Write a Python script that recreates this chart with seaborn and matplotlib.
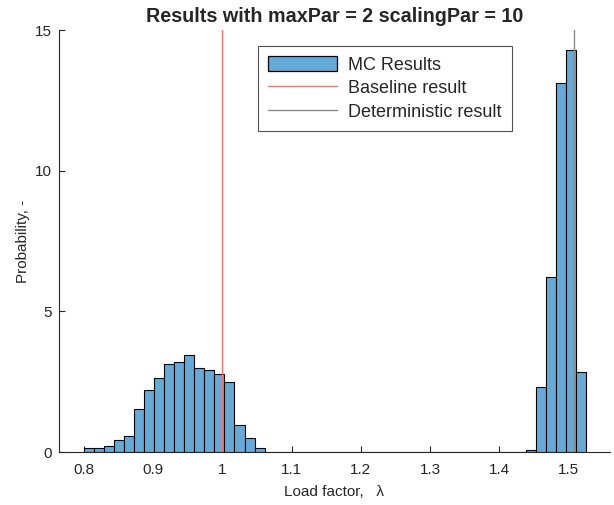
import numpy as np
import pandas as pd
import matplotlib
matplotlib.use("Agg")
import matplotlib.pyplot as plt
import seaborn as sns
from matplotlib.patches import Patch
from matplotlib.lines import Line2D

# ---- data ----
bin_start = 0.8
bin_width = 0.0145
n_bins = 50
left_heights = [0.15, 0.15, 0.21, 0.44, 0.56, 1.53, 2.22, 2.62, 3.12, 3.19,
                3.46, 2.97, 2.90, 2.78, 2.49, 0.97, 0.50, 0.15]
right_heights = [0.08, 2.30, 6.23, 13.10, 14.28, 2.84]
baseline_result = 1.0
deterministic_result = 1.508
x_ticks = [0.8, 0.9, 1.0, 1.1, 1.2, 1.3, 1.4, 1.5]
x_tick_labels = ["0.8", "0.9", "1", "1.1", "1.2", "1.3", "1.4", "1.5"]
y_ticks = [0, 5, 10, 15]

heights = left_heights + [0.0] * (n_bins - len(left_heights) - len(right_heights)) + right_heights
edges = [bin_start + bin_width * k for k in range(n_bins + 1)]
centers = [(edges[k] + edges[k + 1]) / 2 for k in range(n_bins)]
df = pd.DataFrame({"x": centers, "w": heights})

sns.set_style("white")
plt.rcParams["font.family"] = ["Liberation Sans", "DejaVu Sans"]

fig = plt.figure(figsize=(6.14, 5.05), dpi=100)
ax = fig.add_axes([59 / 614, 53 / 505, (610 - 59) / 614, (452 - 30) / 505])

face = (0.4, 0.668, 0.845)
sns.histplot(data=df, x="x", weights="w", bins=edges, stat="count",
             color=face, alpha=1.0, edgecolor="black", linewidth=0.8, ax=ax)

ax.axvline(baseline_result, color="#ff7070", linewidth=1.0)
ax.axvline(deterministic_result, color="#8a8a8a", linewidth=1.0)

ax.set_xlim(0.764, 1.56)
ax.set_ylim(0, 15)
ax.set_xticks(x_ticks)
ax.set_xticklabels(x_tick_labels)
ax.set_yticks(y_ticks)
ax.tick_params(direction="in", length=4, width=0.8, labelsize=11,
               colors="#262626", bottom=True, left=True)
ax.tick_params(axis="x", pad=8)
ax.tick_params(axis="y", pad=5)
for s in ["top", "right"]:
    ax.spines[s].set_visible(False)
for s in ["left", "bottom"]:
    ax.spines[s].set_color("#262626")
    ax.spines[s].set_linewidth(0.8)

ax.set_xlabel("Load factor,   λ", fontsize=11, color="#262626", labelpad=6)
ax.set_ylabel("Probability, -", fontsize=11, color="#262626", labelpad=4)
ax.set_title("Results with maxPar = 2 scalingPar = 10", fontsize=14.2,
             fontweight="bold", pad=6)

handles = [Patch(facecolor=face, edgecolor="black", linewidth=0.9),
           Line2D([0], [0], color="#ff7070", linewidth=1.0),
           Line2D([0], [0], color="#8a8a8a", linewidth=1.0)]
labels = ["MC Results", "Baseline result", "Deterministic result"]
leg = ax.legend(handles, labels, loc="upper left",
                bbox_to_anchor=((258 - 59) / 551, (452 - 46) / 422),
                borderaxespad=0, fontsize=13, frameon=True, fancybox=False,
                edgecolor="#262626", handlelength=3.8, handleheight=0.9,
                borderpad=0.55, labelspacing=0.33, handletextpad=0.65)
leg.get_frame().set_linewidth(0.8)

fig.savefig("out.png", dpi=100)
